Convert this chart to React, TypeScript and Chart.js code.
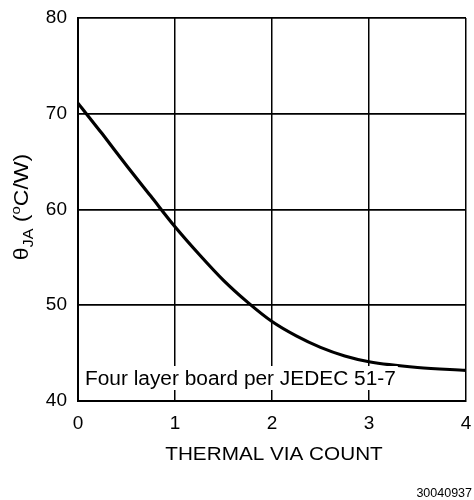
import React, { useEffect, useRef } from "react";
import { Chart, registerables } from "chart.js";

Chart.register(...registerables);

const viaCount = [0, 0.25, 0.5, 0.75, 1, 1.25, 1.5, 1.75, 2, 2.25, 2.5, 2.75, 3, 3.5, 4];
const thetaJA = [71.1, 67.9, 64.6, 61.4, 58.2, 55.3, 52.6, 50.3, 48.3, 46.8, 45.6, 44.7, 44.1, 43.5, 43.2];
const xTicks = [0, 1, 2, 3, 4];
const yTicks = [40, 50, 60, 70, 80];
const xTitle = "THERMAL VIA COUNT";
const note = "Four layer board per JEDEC 51-7";
const figId = "30040937";

const FONT = "Arial, 'Liberation Sans', Helvetica, sans-serif";

const textPlugin = {
  id: "textPlugin",
  afterDraw(chart: any) {
    const ctx = chart.ctx as CanvasRenderingContext2D;
    const area = chart.chartArea;
    ctx.save();
    ctx.textBaseline = "alphabetic";

    // note with white background (text is slightly wide, like the original)
    ctx.font = `19.5px ${FONT}`;
    const sx = 1.07;
    const nw = ctx.measureText(note).width * sx;
    ctx.fillStyle = "#fff";
    ctx.fillRect(area.left + 4, 366, nw + 5, 24);
    ctx.fillStyle = "#000";
    ctx.save();
    ctx.translate(area.left + 7, 385);
    ctx.scale(sx, 1);
    ctx.textAlign = "left";
    ctx.fillText(note, 0, 0);
    ctx.restore();

    // x title
    ctx.save();
    ctx.font = `19px ${FONT}`;
    ctx.translate((area.left + area.right) / 2 + 2, 460);
    ctx.scale(1.09, 1);
    ctx.textAlign = "center";
    ctx.fillText(xTitle, 0, 0);
    ctx.restore();

    // figure id
    ctx.font = `12.5px ${FONT}`;
    ctx.textAlign = "right";
    ctx.fillText(figId, 472, 497);

    // y title: θJA (°C/W) with sub/superscripts
    const segs = [
      { t: "θ", size: 20, dy: 0 },
      { t: "JA", size: 14, dy: 5 },
      { t: " (", size: 20, dy: 0 },
      { t: "o", size: 13, dy: -8 },
      { t: "C/W)", size: 20, dy: 0 },
    ];
    let total = 0;
    const widths: number[] = [];
    for (const s of segs) {
      ctx.font = `${s.size}px ${FONT}`;
      const w = ctx.measureText(s.t).width;
      widths.push(w);
      total += w;
    }
    const ys = 1.15;
    ctx.translate(28, 207);
    ctx.rotate(-Math.PI / 2);
    ctx.scale(ys, 1);
    ctx.textAlign = "left";
    let x = -total / 2;
    segs.forEach((s, i) => {
      ctx.font = `${s.size}px ${FONT}`;
      ctx.fillText(s.t, x, s.dy);
      x += widths[i];
    });
    ctx.restore();
  },
};

export default function App() {
  const ref = useRef<HTMLCanvasElement | null>(null);
  useEffect(() => {
    if (!ref.current) return;
    const chart = new Chart(ref.current, {
      type: "line",
      data: {
        datasets: [
          {
            data: viaCount.map((v, i) => ({ x: v, y: thetaJA[i] })),
            borderColor: "#000",
            borderWidth: 3.2,
            pointRadius: 0,
            cubicInterpolationMode: "monotone",
            fill: false,
          },
        ],
      },
      options: {
        animation: false,
        responsive: false,
        maintainAspectRatio: false,
        layout: { padding: { top: 18, right: 8, left: 0, bottom: 0 } },
        plugins: { legend: { display: false }, tooltip: { enabled: false } },
        scales: {
          x: {
            type: "linear",
            min: xTicks[0],
            max: xTicks[xTicks.length - 1],
            afterBuildTicks: (s: any) => {
              s.ticks = xTicks.map((v) => ({ value: v }));
            },
            afterFit: (s: any) => {
              s.height = 99;
              s.paddingLeft = 0;
              s.paddingRight = 0;
              s.paddingTop = 0;
              s.paddingBottom = 0;
            },
            ticks: {
              color: "#000",
              font: { family: FONT, size: 19 },
              padding: 11,
              maxRotation: 0,
            },
            grid: { color: "#000", lineWidth: 1.5, drawTicks: false },
            border: { color: "#000", width: 2 },
          },
          y: {
            min: yTicks[0],
            max: yTicks[yTicks.length - 1],
            afterBuildTicks: (s: any) => {
              s.ticks = yTicks.map((v) => ({ value: v }));
            },
            afterFit: (s: any) => {
              s.width = 78;
              s.paddingLeft = 0;
              s.paddingRight = 0;
              s.paddingTop = 0;
              s.paddingBottom = 0;
            },
            ticks: {
              color: "#000",
              font: { family: FONT, size: 19 },
              padding: 11,
            },
            grid: { color: "#000", lineWidth: 1.8, drawTicks: false },
            border: { color: "#000", width: 2 },
          },
        },
      },
      plugins: [textPlugin],
    } as any);
    return () => chart.destroy();
  }, []);
  return (
    <div style={{ position: "absolute", left: 0, top: 0, width: 474, height: 500, background: "#fff" }}>
      <canvas ref={ref} width={474} height={500} style={{ width: 474, height: 500 }} />
    </div>
  );
}
